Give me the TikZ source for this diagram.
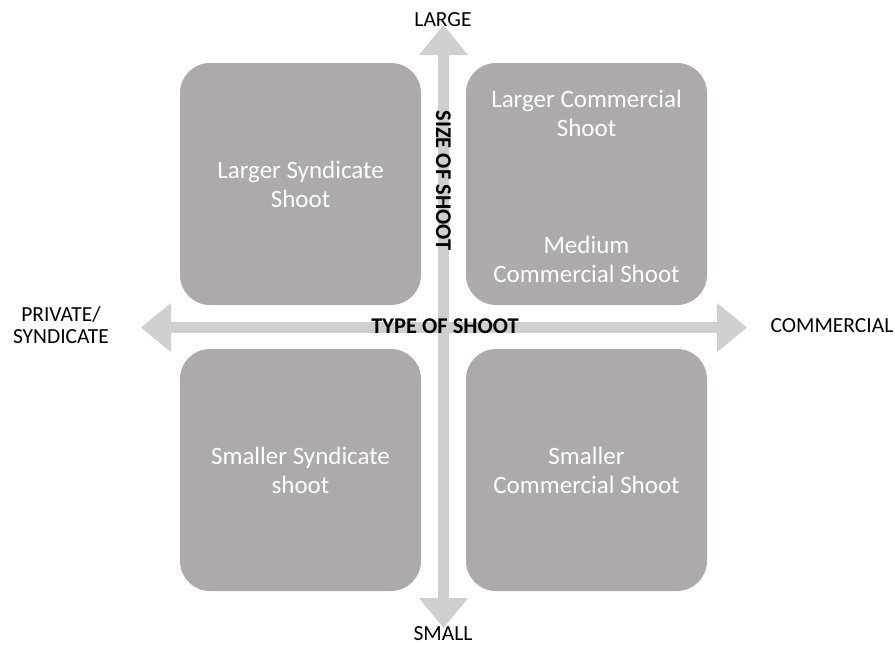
\documentclass[tikz,border=0pt]{standalone}
\usepackage{fontspec}
\setmainfont{Carlito}
\usetikzlibrary{arrows.meta}

\definecolor{quadgrey}{HTML}{AEAAAA}
\definecolor{axisgrey}{HTML}{D0CECE}

\tikzset{
  quad/.style={fill=quadgrey, draw=none, rounded corners=30pt,
    minimum width=241pt, minimum height=242pt, inner sep=0pt},
  quadtext/.style={text=white, align=center, font=\fontsize{25}{29}\selectfont},
  axis/.style={axisgrey, line width=11pt,
    {Triangle[length=30pt,width=49pt,line width=0pt]}-{Triangle[length=30pt,width=49pt,line width=0pt]}},
  endlabel/.style={text=black, align=center, font=\fontsize{21.5}{21.5}\selectfont, inner sep=0pt},
  axislabel/.style={text=black, font=\bfseries\fontsize{22.5}{22.5}\selectfont, inner sep=0pt}
}

\begin{document}
\begin{tikzpicture}[x=1pt,y=-1pt]
   \useasboundingbox (0,0) rectangle (895,645);

   % the four quadrants
   \node[quad] (tl) at (300.5,184) {};
   \node[quad] (tr) at (586.5,184) {};
   \node[quad] (bl) at (300.5,470) {};
   \node[quad] (br) at (586.5,470) {};

   \node[quadtext] (tltext) at (tl) {Larger Syndicate\\Shoot};
   \node[quadtext] (trtop) at (586.5,113) {Larger Commercial\\Shoot};
   \node[quadtext] (trbot) at (586.5,259) {Medium\\Commercial Shoot};
   \node[quadtext] (bltext) at (bl) {Smaller Syndicate\\shoot};
   \node[quadtext] (brtext) at (br) {Smaller\\Commercial Shoot};

   % axes
   \coordinate (left)   at (141,327.5);
   \coordinate (right)  at (747,327.5);
   \coordinate (top)    at (443.5,25);
   \coordinate (bottom) at (443.5,628);

   \draw[axis] (top) -- (bottom);
   \draw[axis] (left) -- (right);

   \node[axislabel, rotate=-90] (size) at (443.5,180.5) {SIZE OF SHOOT};
   \node[axislabel] (type) at (445,326) {TYPE OF SHOOT};

   % axis ends
   \node[endlabel] (large) at (443,19.5) {LARGE};
   \node[endlabel] (small) at (443,633.5) {SMALL};
   \node[endlabel] (private) at (61,325) {PRIVATE/\\[1pt]SYNDICATE};
   \node[endlabel] (commercial) at (832,325.5) {COMMERCIAL};
\end{tikzpicture}
\end{document}
